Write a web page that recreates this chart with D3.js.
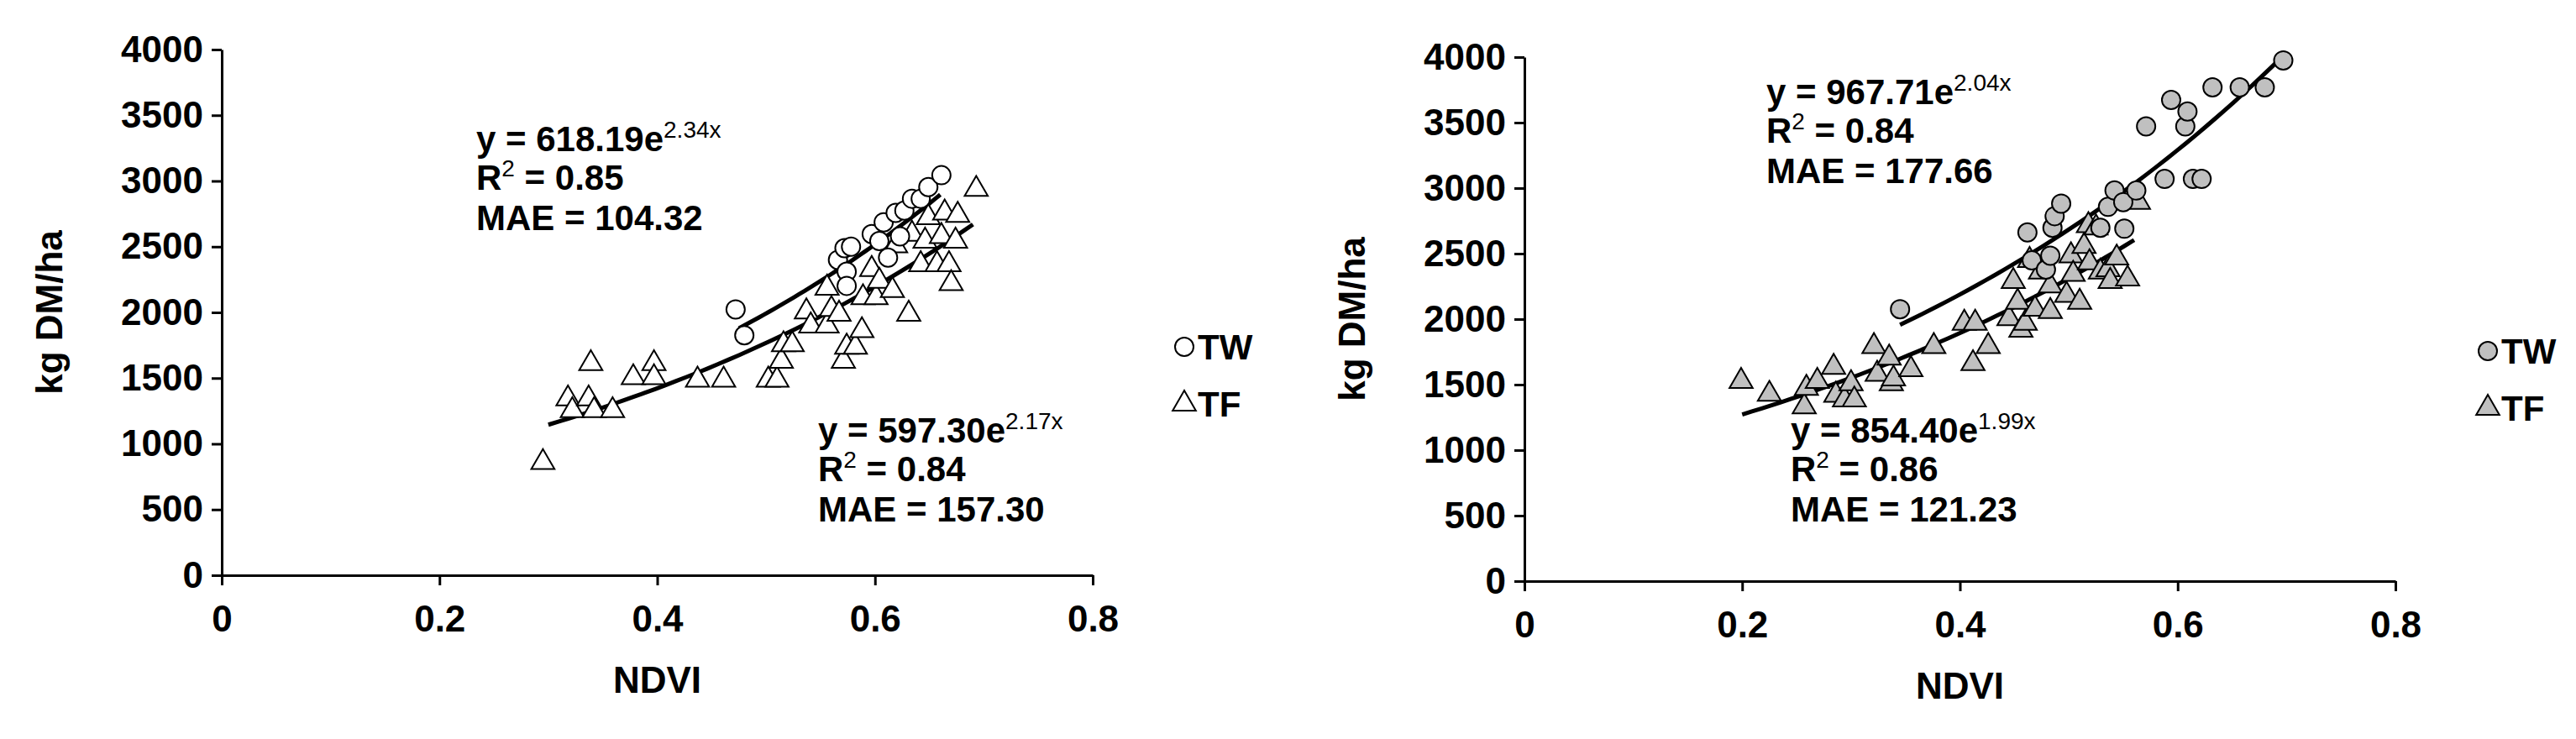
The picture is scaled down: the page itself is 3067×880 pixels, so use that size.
<!DOCTYPE html>
<html><head><meta charset="utf-8">
<script src="https://cdn.jsdelivr.net/npm/d3@7"></script>
<style>body{margin:0;background:#fff}text{font-family:"Liberation Sans Narrow","Liberation Sans",Arial,sans-serif;font-weight:bold}</style>
</head><body>
<svg id="chart" width="3067" height="880"></svg>
<script>
// panel A (left) readings
var aTW = [[0.472,2023],[0.480,1826],[0.566,2400],[0.572,2489],[0.578,2500],[0.574,2310],[0.574,2202],[0.597,2596],[0.604,2543],[0.608,2686],[0.612,2417],[0.619,2757],[0.623,2578],[0.627,2775],[0.634,2865],[0.642,2865],[0.649,2954],[0.661,3044]];
var aTF = [[0.295,859],[0.318,1343],[0.322,1253],[0.337,1343],[0.339,1611],[0.342,1253],[0.359,1253],[0.378,1504],[0.397,1611],[0.397,1504],[0.437,1486],[0.461,1486],[0.502,1486],[0.510,1486],[0.514,1629],[0.516,1755],[0.524,1755],[0.537,2005],[0.541,1898],[0.556,1898],[0.556,2185],[0.560,2023],[0.567,1987],[0.571,1629],[0.574,1737],[0.582,1737],[0.588,1862],[0.589,2113],[0.597,2328],[0.601,2113],[0.604,2238],[0.616,2167],[0.619,2507],[0.631,1987],[0.634,2596],[0.642,2364],[0.646,2543],[0.649,2722],[0.657,2364],[0.661,2578],[0.664,2757],[0.668,2364],[0.670,2220],[0.674,2543],[0.676,2740],[0.693,2937]];
// panel B (right) readings
var bTW = [[0.345,2076],[0.462,2662],[0.466,2449],[0.479,2378],[0.483,2484],[0.485,2697],[0.487,2786],[0.493,2882],[0.529,2697],[0.536,2857],[0.542,2982],[0.550,2893],[0.551,2690],[0.562,2982],[0.571,3471],[0.588,3070],[0.594,3673],[0.607,3471],[0.609,3585],[0.614,3070],[0.622,3070],[0.632,3769],[0.657,3769],[0.680,3769],[0.697,3975]];
var bTF = [[0.199,1526],[0.225,1427],[0.257,1331],[0.259,1473],[0.269,1526],[0.284,1633],[0.286,1420],[0.294,1384],[0.300,1508],[0.303,1384],[0.321,1792],[0.324,1580],[0.335,1704],[0.337,1508],[0.339,1544],[0.355,1615],[0.376,1792],[0.404,1970],[0.412,1661],[0.414,1970],[0.426,1792],[0.445,2005],[0.449,2289],[0.453,2130],[0.456,1917],[0.460,1970],[0.464,2449],[0.469,2076],[0.474,2360],[0.483,2059],[0.483,2254],[0.498,2183],[0.502,2484],[0.504,2343],[0.510,2130],[0.514,2556],[0.519,2431],[0.518,2715],[0.525,2697],[0.529,2360],[0.536,2378],[0.538,2289],[0.544,2467],[0.554,2307],[0.564,2893]];
var xTicks = [0, 0.2, 0.4, 0.6, 0.8];
var yTicks = [0,500,1000,1500,2000,2500,3000,3500,4000];
// trend lines: [a, b, xmin, xmax]
var fitsA = {TW:[618.19,2.34,0.475,0.66], TF:[597.30,2.17,0.30,0.69]};
var fitsB = {TW:[967.71,2.04,0.345,0.695], TF:[854.40,1.99,0.20,0.56]};
var eqA = [["618.19","2.34","0.85","104.32"],["597.30","2.17","0.84","157.30"]];
var eqB = [["967.71","2.04","0.84","177.66"],["854.40","1.99","0.86","121.23"]];

var svg = d3.select("#chart");

function panel(o){
  var g = svg.append("g");
  var x = d3.scaleLinear().domain([0,0.8]).range([o.x0,o.x1]);
  var y = d3.scaleLinear().domain([0,4000]).range([o.y0,o.y1]);
  var ax = g.append("g").attr("transform","translate(0,"+o.y0+")")
    .call(d3.axisBottom(x).tickValues(xTicks).tickFormat(d3.format("")).tickSize(12).tickSizeOuter(0).tickPadding(24));
  var ay = g.append("g").attr("transform","translate("+o.x0+",0)")
    .call(d3.axisLeft(y).tickValues(yTicks).tickFormat(d3.format("d")).tickSize(12).tickSizeOuter(0).tickPadding(10));
  [ax,ay].forEach(function(a){
    a.selectAll("path,line").attr("stroke","#000").attr("stroke-width",3);
    a.selectAll("text").attr("font-size",44).attr("fill","#000");
  });
  ax.selectAll("text").attr("dy","0.71em");
  g.append("text").attr("x",(o.x0+o.x1)/2).attr("y",o.y0+140).attr("text-anchor","middle").attr("font-size",44).text("NDVI");
  g.append("text").attr("transform","translate("+(o.x0-190)+","+((o.y0+o.y1)/2)+") rotate(-90)")
    .attr("text-anchor","middle").attr("font-size",44).text("kg DM/ha");

  ["TW","TF"].forEach(function(k){
    var f = o.fits[k];
    var xs = d3.range(0,41).map(function(i){return f[2]+(f[3]-f[2])*i/40;});
    g.append("path").datum(xs)
      .attr("d", d3.line().x(function(v){return x(v);}).y(function(v){return y(f[0]*Math.exp(f[1]*v));}))
      .attr("fill","none").attr("stroke","#000").attr("stroke-width",5);
  });
  var tri = d3.symbol().type(d3.symbolTriangle).size(330);
  g.selectAll(".tf").data(o.tf).enter().append("path")
    .attr("transform",function(d){return "translate("+x(d[0])+","+y(d[1])+")";})
    .attr("d",tri).attr("fill",o.fill).attr("stroke","#000").attr("stroke-width",2);
  g.selectAll(".tw").data(o.tw).enter().append("circle")
    .attr("cx",function(d){return x(d[0]);}).attr("cy",function(d){return y(d[1]);}).attr("r",11)
    .attr("fill",o.fill).attr("stroke","#000").attr("stroke-width",2);

  o.eqPos.forEach(function(p,i){
    var e = o.eq[i];
    var t1 = g.append("text").attr("x",p[0]).attr("y",p[1]).attr("font-size",42);
    t1.append("tspan").text("y = "+e[0]+"e");
    t1.append("tspan").attr("dy",-16).attr("font-size",28).attr("font-weight","normal").text(e[1]+"x");
    var t2 = g.append("text").attr("x",p[0]).attr("y",p[1]+46).attr("font-size",42);
    t2.append("tspan").text("R");
    t2.append("tspan").attr("dy",-16).attr("font-size",28).attr("font-weight","normal").text("2");
    t2.append("tspan").attr("dy",16).text(" = "+e[2]);
    g.append("text").attr("x",p[0]).attr("y",p[1]+94).attr("font-size",42).text("MAE = "+e[3]);
  });

  var lg = g.append("g").attr("transform","translate("+o.leg[0]+","+o.leg[1]+")");
  lg.append("circle").attr("cx",0).attr("cy",0).attr("r",11).attr("fill",o.fill).attr("stroke","#000").attr("stroke-width",2);
  lg.append("text").attr("x",16).attr("y",15).attr("font-size",42).text("TW");
  lg.append("path").attr("transform","translate(0,68)").attr("d",tri).attr("fill",o.fill).attr("stroke","#000").attr("stroke-width",2);
  lg.append("text").attr("x",16).attr("y",83).attr("font-size",42).text("TF");
}

panel({x0:264,x1:1301,y0:685,y1:59,tw:aTW,tf:aTF,fits:fitsA,eq:eqA,fill:"#fff",
  eqPos:[[567,180],[974,527]],leg:[1410,413]});
panel({x0:1815,x1:2852,y0:692,y1:68,tw:bTW,tf:bTF,fits:fitsB,eq:eqB,fill:"#c0c0c0",
  eqPos:[[2103,124],[2132,527]],leg:[2962,418]});
</script>
</body></html>
